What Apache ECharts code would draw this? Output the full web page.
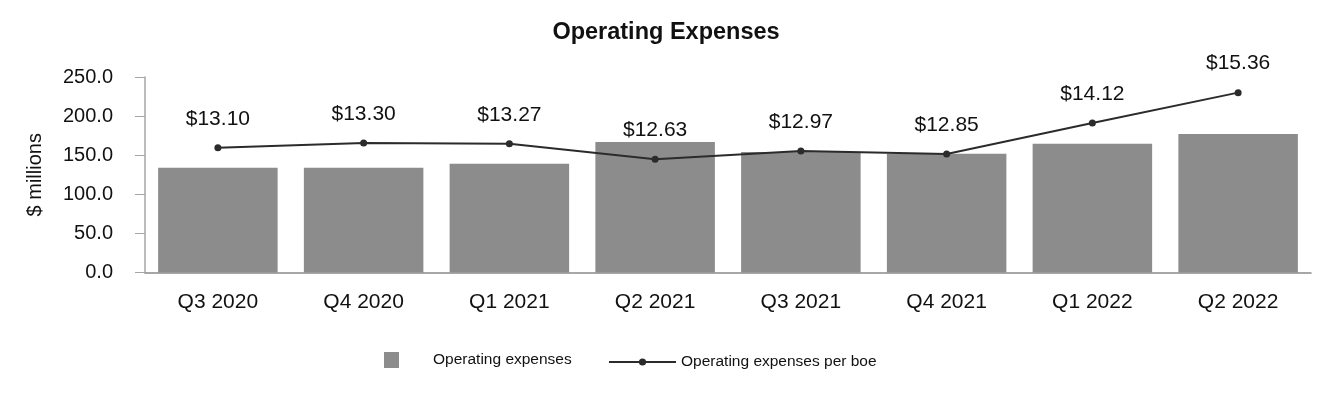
<!DOCTYPE html>
<html>
<head>
<meta charset="utf-8">
<script src="https://cdn.jsdelivr.net/npm/echarts@6/dist/echarts.min.js"></script>
<style>
html,body{margin:0;padding:0;background:#fff;}
#chart{width:1332px;height:400px;}
</style>
</head>
<body>
<div id="chart"></div>
<script>
const categories = ['Q3 2020','Q4 2020','Q1 2021','Q2 2021','Q3 2021','Q4 2021','Q1 2022','Q2 2022'];
const opexMillions = [134, 134, 139, 167, 154, 152, 164.5, 177];
const opexPerBoe = [13.10, 13.30, 13.27, 12.63, 12.97, 12.85, 14.12, 15.36];
const yTicks = [0, 50, 100, 150, 200, 250];

const FONT = '"Liberation Sans", Arial, sans-serif';
const chart = echarts.init(document.getElementById('chart'));
chart.setOption({
  animation: false,
  backgroundColor: '#fff',
  textStyle: {fontFamily: FONT},
  title: {
    text: 'Operating Expenses',
    left: 'center',
    top: 16,
    textStyle: {fontFamily: FONT, fontSize: 23.5, fontWeight: 'bold', color: '#111'}
  },
  grid: {left: 145, right: 21, top: 77, bottom: 127.5, containLabel: false},
  legend: [
    {
      data: ['Operating expenses'],
      left: 379, top: 347,
      itemWidth: 15, itemHeight: 16,
      icon: 'rect',
      textStyle: {fontFamily: FONT, fontSize: 15.5, color: '#111', padding: [0, 0, 0, 29]}
    },
    {
      data: ['Operating expenses per boe'],
      left: 603, top: 349,
      itemWidth: 67, itemHeight: 9,
      textStyle: {fontFamily: FONT, fontSize: 15.5, color: '#111'}
    }
  ],
  xAxis: {
    type: 'category',
    data: categories,
    axisLine: {lineStyle: {color: '#8a8a8a', width: 1.5}},
    axisTick: {alignWithLabel: true, length: 10, lineStyle: {color: '#a0a0a0'}},
    axisLabel: {fontFamily: FONT, fontSize: 21, color: '#111', margin: 19}
  },
  yAxis: [
    {
      type: 'value',
      min: yTicks[0], max: yTicks[yTicks.length - 1], interval: 50,
      name: '$ millions',
      nameLocation: 'middle',
      nameGap: 100,
      nameTextStyle: {fontFamily: FONT, fontSize: 20, color: '#111'},
      axisLine: {show: true, lineStyle: {color: '#a6a6a6', width: 1.5}},
      axisTick: {show: true, length: 10, lineStyle: {color: '#a6a6a6'}},
      splitLine: {show: false},
      axisLabel: {fontFamily: FONT, fontSize: 20, color: '#111', margin: 32,
        formatter: v => v.toFixed(1)}
    },
    {
      type: 'value', min: 8, max: 16, show: false,
      splitLine: {show: false}
    }
  ],
  series: [
    {
      name: 'Operating expenses',
      type: 'bar',
      data: opexMillions,
      barCategoryGap: '18%',
      itemStyle: {color: '#8c8c8c'}
    },
    {
      name: 'Operating expenses per boe',
      type: 'line',
      yAxisIndex: 1,
      data: opexPerBoe,
      symbol: 'circle',
      symbolSize: 7,
      itemStyle: {color: '#2b2b2b'},
      lineStyle: {color: '#2b2b2b', width: 2},
      label: {
        show: true, position: 'top', distance: 15,
        fontFamily: FONT, fontSize: 21, color: '#111',
        formatter: p => '$' + p.value.toFixed(2)
      }
    }
  ]
});
</script>
</body>
</html>
